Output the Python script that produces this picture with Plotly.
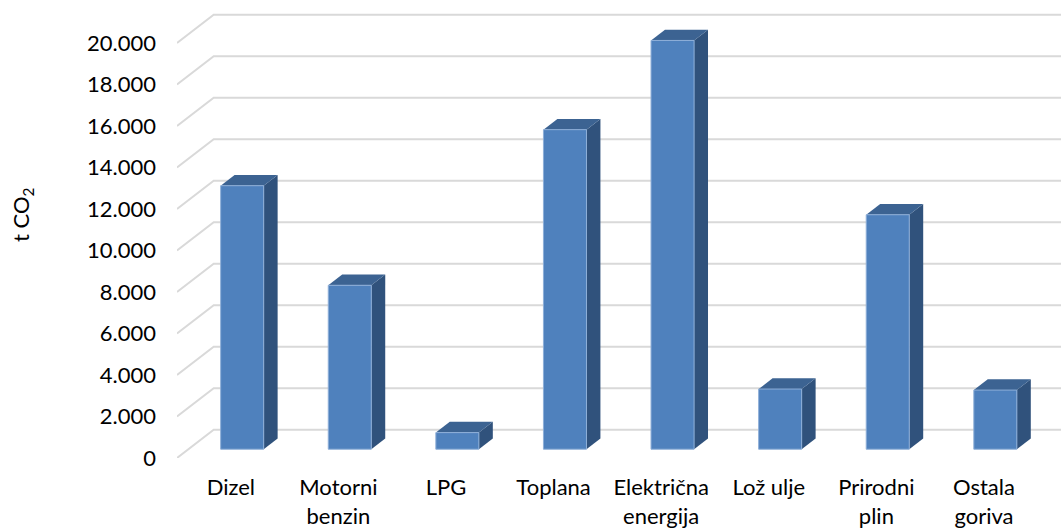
import plotly.graph_objects as go

# Emissions by energy source (t CO2)
categories = ["Dizel", "Motorni<br>benzin", "LPG", "Toplana",
              "Električna<br>energija", "Lož ulje", "Prirodni<br>plin", "Ostala<br>goriva"]
emissions = [12700, 7900, 800, 15400, 19700, 2900, 11300, 2850]
y_ticks = [0, 2000, 4000, 6000, 8000, 10000, 12000, 14000, 16000, 18000, 20000]
y_tick_labels = ["0", "2.000", "4.000", "6.000", "8.000", "10.000",
                 "12.000", "14.000", "16.000", "18.000", "20.000"]

# Oblique 3D projection: the floor depth is a shift in axis units
DEPTH_X = 0.341      # category units
DEPTH_Y = 1365       # value units
BAR_WIDTH = 0.4
BAR_FRONT = 0.31     # depth fraction of bar front face
BAR_BACK = 0.69      # depth fraction of bar back face
X_MAX = 8.216
Y_MAX = 21590

FONT = "Lato"
FRONT_COLOR = "#4F81BD"
TOP_COLOR = "#3C6392"
SIDE_COLOR = "#30527C"
GRID_COLOR = "#D9D9D9"

fig = go.Figure()

# back wall gridlines with their diagonal run to the front edge
shapes = []
for v in y_ticks:
    path = (f"M 0,{v} L {DEPTH_X},{v + DEPTH_Y} "
            f"L {X_MAX + 1},{v + DEPTH_Y}")
    shapes.append(dict(type="path", xref="x", yref="y", path=path,
                       line=dict(color=GRID_COLOR, width=2), layer="below"))


def poly(xs, ys, color, line_color=None, line_width=0):
    fig.add_trace(go.Scatter(
        x=xs + [xs[0]], y=ys + [ys[0]], mode="lines", fill="toself",
        fillcolor=color,
        line=dict(color=line_color or color, width=line_width),
        hoverinfo="skip", showlegend=False))


d = BAR_BACK - BAR_FRONT
ddx, ddy = d * DEPTH_X, d * DEPTH_Y
for i, v in enumerate(emissions):
    x0 = i + 0.5 - BAR_WIDTH / 2 + BAR_FRONT * DEPTH_X
    x1 = x0 + BAR_WIDTH
    y0 = BAR_FRONT * DEPTH_Y
    y1 = y0 + v
    # side face
    poly([x1, x1 + ddx, x1 + ddx, x1], [y0, y0 + ddy, y1 + ddy, y1], SIDE_COLOR)
    # top face
    poly([x0, x1, x1 + ddx, x0 + ddx], [y1, y1, y1 + ddy, y1 + ddy], TOP_COLOR)
    # front face
    poly([x0, x1, x1, x0], [y0, y0, y1, y1], FRONT_COLOR,
         line_color="#8EAFD8", line_width=1)

fig.update_layout(
    width=1061, height=529,
    margin=dict(l=177, r=0, t=10, b=71),
    paper_bgcolor="white", plot_bgcolor="white",
    font=dict(family=FONT, size=22, color="#000000"),
    shapes=shapes,
    xaxis=dict(range=[0, X_MAX], tickvals=[i + 0.5 for i in range(len(categories))],
               ticktext=categories, showgrid=False, zeroline=False, showline=False,
               ticks="", ticklabelstandoff=14, fixedrange=True),
    yaxis=dict(range=[0, Y_MAX], tickvals=y_ticks, ticktext=y_tick_labels,
               showgrid=False, zeroline=False, showline=False, ticks="",
               ticklabelstandoff=20, fixedrange=True),
    annotations=[dict(text="t CO<sub>2</sub>", textangle=-90,
                      xref="paper", yref="paper",
                      x=(22 - 177) / 884, y=(458 - 215) / 448,
                      xanchor="center", yanchor="middle", showarrow=False,
                      font=dict(family=FONT, size=22, color="#000000"))],
)

fig.write_html("out.html")
